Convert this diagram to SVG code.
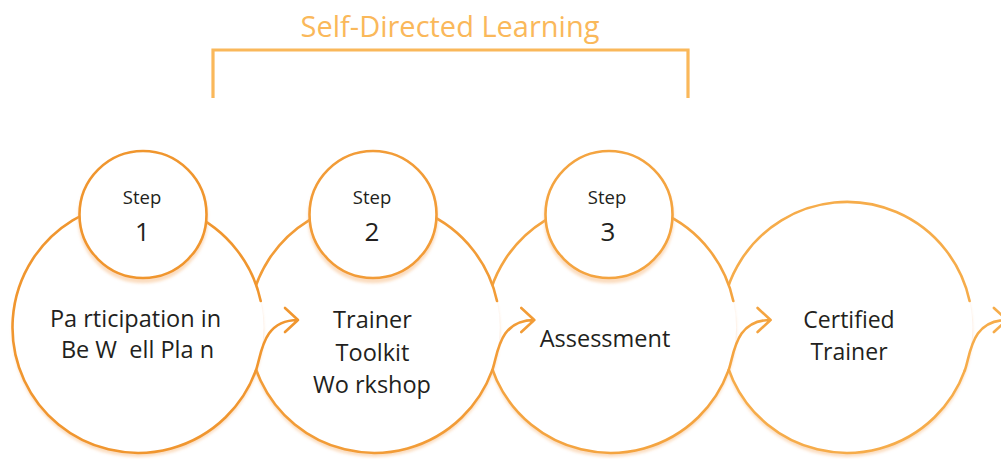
<svg xmlns="http://www.w3.org/2000/svg" width="1001" height="459" viewBox="0 0 1001 459">
  <defs>
    <filter id="sh" x="-20%" y="-20%" width="140%" height="140%">
      <feDropShadow dx="0" dy="4" stdDeviation="1.6" flood-color="#F6B272" flood-opacity="0.45"/>
    </filter>
    <style>
      .fill { fill: #ffffff; stroke: none; }
      .ring { fill: none; stroke-width: 2.6; stroke-linecap: round; }
      .small { fill: #ffffff; stroke-width: 2.6; }
      .c1 { stroke: #F0962F; }
      .c2 { stroke: #F29C37; }
      .c3 { stroke: #F4A440; }
      .c4 { stroke: #F6AC4A; }
      .lbl { font-family: "Open Sans", "Noto Sans", sans-serif; fill: #231F20; text-anchor: middle; }
      .step { font-size: 18.5px; }
      .num { font-size: 26px; }
      .main { font-size: 23.5px; }
      .tight { font-size: 23px; }
      .pre { white-space: pre; }
      .conn { fill: none; stroke-width: 2.6; stroke-linecap: round; stroke-linejoin: round; }
      .title { font-family: "Open Sans", "Noto Sans", sans-serif; font-size: 29px; fill: #FAB85A; text-anchor: middle; }
    </style>
  </defs>
  <rect width="1001" height="459" fill="#ffffff"/>

  <g id="header">
    <text class="title" x="450" y="37">Self-Directed Learning</text>
    <path d="M213,98 V50 H688 V98" fill="none" stroke="#FAB85A" stroke-width="3.2"/>
  </g>

  <g id="node4">
    <circle class="fill" cx="846.9" cy="327.5" r="125.5" filter="url(#sh)"/>
    <path class="ring c4" d="M969.6,301 A125.5,125.5 0 1 0 964.8,370.4"/>
    <text class="lbl tight" x="849" y="328">Certified</text>
    <text class="lbl tight" x="849" y="359.5">Trainer</text>
  </g>

  <g id="node3">
    <circle class="fill" cx="610.6" cy="327.5" r="125.5" filter="url(#sh)"/>
    <path class="ring c3" d="M733.3,301 A125.5,125.5 0 1 0 728.5,370.4"/>
    <circle class="small c3" cx="609" cy="214.5" r="63.5" filter="url(#sh)"/>
    <text class="lbl step" x="607" y="204">Step</text>
    <text class="lbl num" x="608" y="241">3</text>
    <text class="lbl main" x="605" y="347">Assessment</text>
  </g>

  <g id="node2">
    <circle class="fill" cx="374.3" cy="327.5" r="125.5" filter="url(#sh)"/>
    <path class="ring c2" d="M497,301 A125.5,125.5 0 1 0 492.2,370.4"/>
    <circle class="small c2" cx="373" cy="214.5" r="63.5" filter="url(#sh)"/>
    <text class="lbl step" x="372" y="204">Step</text>
    <text class="lbl num" x="372" y="241">2</text>
    <text class="lbl main" x="372.5" y="328">Trainer</text>
    <text class="lbl main" x="372.5" y="360.5">Toolkit</text>
    <text class="lbl main" x="372" y="392.5">Wo rkshop</text>
  </g>

  <g id="node1">
    <circle class="fill" cx="138" cy="327.5" r="125.5" filter="url(#sh)"/>
    <path class="ring c1" d="M260.7,301 A125.5,125.5 0 1 0 255.9,370.4"/>
    <circle class="small c1" cx="143" cy="214.5" r="63.5" filter="url(#sh)"/>
    <text class="lbl step" x="142" y="204">Step</text>
    <text class="lbl num" x="142.5" y="241">1</text>
    <text class="lbl main" x="135.5" y="327">Pa rticipation in</text>
    <text class="lbl main pre" x="137.5" y="358">Be W  ell Pla n</text>
  </g>

  <g id="connectors">
    <path class="conn c1" d="M255.9,370.4 C261.7,354.4 262,320 298,320 M285,308 L298,320 L285,332"/>
    <path class="conn c2" d="M492.2,370.4 C498,354.4 498.3,320 534.3,320 M521.3,308 L534.3,320 L521.3,332"/>
    <path class="conn c3" d="M728.5,370.4 C734.3,354.4 734.6,320 770.6,320 M757.6,308 L770.6,320 L757.6,332"/>
    <path class="conn c4" d="M964.8,370.4 C970.6,354.4 970.9,320 1006.9,320 M993.9,308 L1006.9,320 L993.9,332"/>
  </g>
</svg>
